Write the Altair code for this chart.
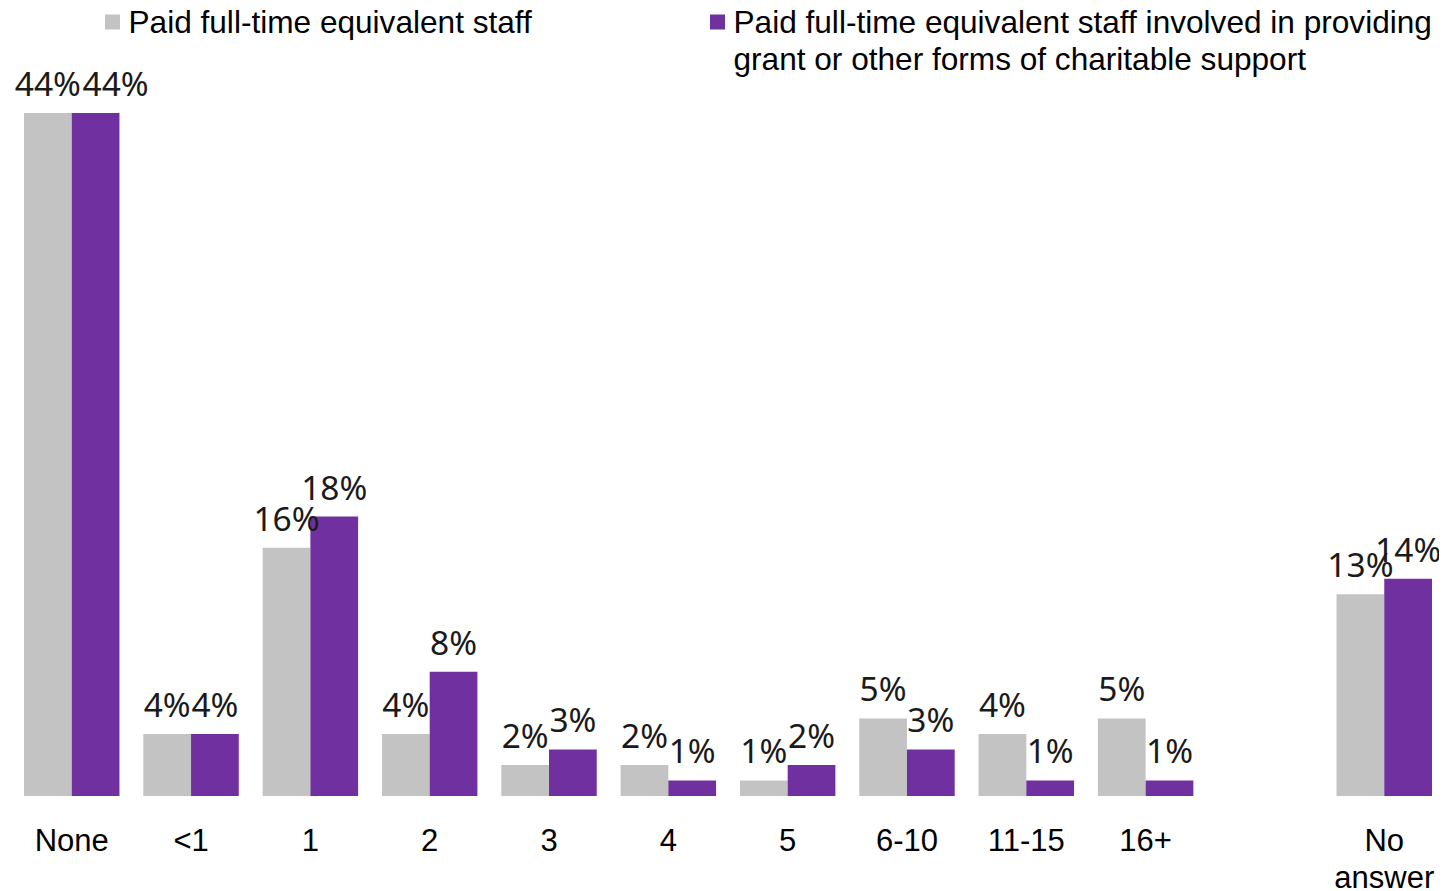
import altair as alt
import pandas as pd

categories = ["None", "<1", "1", "2", "3", "4", "5", "6-10", "11-15", "16+", "gap", "No answer"]
data_categories = ["None", "<1", "1", "2", "3", "4", "5", "6-10", "11-15", "16+", "No answer"]
series_names = [
    "Paid full-time equivalent staff",
    "Paid full-time equivalent staff involved in providing grant or other forms of charitable support",
]
legend_lines = [
    ["Paid full-time equivalent staff"],
    ["Paid full-time equivalent staff involved in providing", "grant or other forms of charitable support"],
]
paid_staff = [44, 4, 16, 4, 2, 2, 1, 5, 4, 5, 13]
grant_staff = [44, 4, 18, 8, 3, 1, 2, 3, 1, 1, 14]
colors = ["#C3C3C3", "#7030A0"]

rows = []
for c, a, b in zip(data_categories, paid_staff, grant_staff):
    rows.append({"cat": c, "series": series_names[0], "value": a, "label": f"{a}%"})
    rows.append({"cat": c, "series": series_names[1], "value": b, "label": f"{b}%"})
df = pd.DataFrame(rows)

x_enc = alt.X(
    "cat:N",
    scale=alt.Scale(domain=categories, paddingInner=0.2, paddingOuter=0.0587),
    axis=alt.Axis(
        title=None,
        labelAngle=0,
        ticks=False,
        domain=False,
        labelFont="Liberation Sans",
        labelFontSize=31,
        labelColor="#000000",
        labelPadding=30,
        labelLineHeight=37,
        labelExpr="datum.value == 'No answer' ? ['No', 'answer'] : (datum.value == 'gap' ? '' : datum.label)",
    ),
)
y_enc = alt.Y("value:Q", scale=alt.Scale(domain=[0, 50.77], nice=False, zero=True), axis=None)
xoff = alt.XOffset("series:N", scale=alt.Scale(domain=series_names, paddingInner=0))
color_enc = alt.Color("series:N", scale=alt.Scale(domain=series_names, range=colors), legend=None)

bars = alt.Chart(df).mark_bar().encode(x=x_enc, y=y_enc, xOffset=xoff, color=color_enc)

is_shifted = "datum.cat == 'None' && datum.series == '" + series_names[1] + "'"
label_style = dict(baseline="alphabetic", dy=-17, font="Noto Sans", fontSize=33.5, color="#1a1a1a")
labels = (
    alt.Chart(df)
    .transform_filter("!(" + is_shifted + ")")
    .mark_text(**label_style)
    .encode(x=x_enc, y=y_enc, xOffset=xoff, text="label:N")
)
labels_shifted = (
    alt.Chart(df)
    .transform_filter(is_shifted)
    .mark_text(dx=20, **label_style)
    .encode(x=x_enc, y=y_enc, xOffset=xoff, text="label:N")
)

# Legend drawn as marks
legend_layers = []
sym_x = [95.5, 700.5]
for i, name in enumerate(series_names):
    src = alt.Data(values=[{"series": name}])
    legend_layers.append(
        alt.Chart(src)
        .mark_square(size=225, opacity=1, color=colors[i])
        .encode(x=alt.value(sym_x[i]), y=alt.value(14))
    )
    legend_layers.append(
        alt.Chart(src)
        .mark_text(
            align="left", baseline="alphabetic", font="Liberation Sans", fontSize=31.6,
            color="#000000", lineHeight=37, lineBreak="\n",
        )
        .encode(x=alt.value(sym_x[i] + 16), y=alt.value(25), text=alt.value("\n".join(legend_lines[i])))
    )

chart = (
    alt.layer(bars, labels, labels_shifted, *legend_layers)
    .properties(
        width=1422,
        height=788,
        autosize=alt.AutoSizeParams(type="none"),
        padding={"left": 9, "top": 0, "right": 0, "bottom": 95},
    )
    .configure_view(stroke=None)
)

chart.save("out.html", embed_options={"renderer": "svg", "actions": False})
